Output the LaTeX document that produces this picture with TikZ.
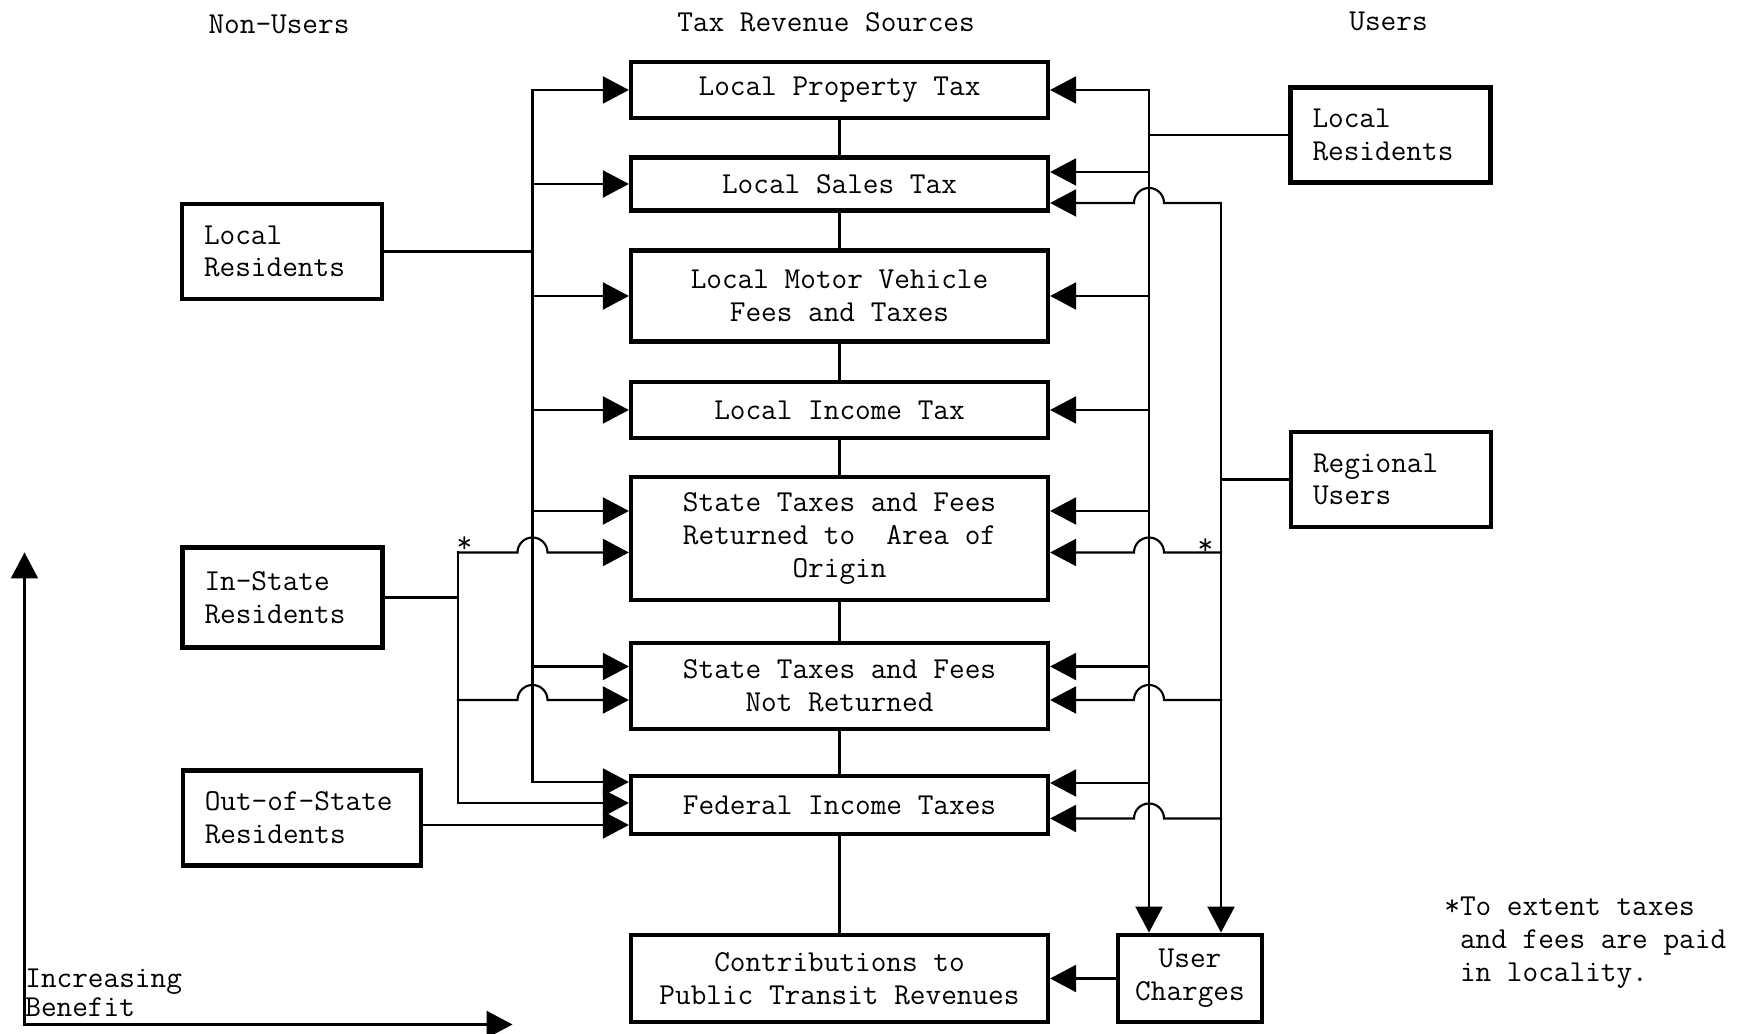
\documentclass[tikz,border=0pt]{standalone}
\usepackage{fontspec}
\usetikzlibrary{arrows.meta,calc}

\begin{document}
\begin{tikzpicture}[
  font=\ttfamily\fontsize{17.3pt}{18.6pt}\selectfont,
  block/.style={rectangle,draw,line width=2.4pt,minimum width=8.34cm,
    align=center,inner sep=0pt},
  sidebox/.style={rectangle,draw,line width=2.4pt,text width=#1,inner xsep=4.4mm,
    inner ysep=0pt,minimum height=1.9cm,align=left},
  sidebox/.default=3.12cm,
  link/.style={line width=1.2pt,line cap=rect},
  arrow/.style={link,-{Triangle[length=5.2mm,width=5.4mm]}},
]
\useasboundingbox (0,0) rectangle (34.78,20.68);

% Column headings
\node (nonusers) at (5.58,20.19) {Non-Users};
\node (sources) at (16.52,20.24) {Tax Revenue Sources};
\node (users) at (27.77,20.26) {Users};

% Tax revenue sources
\node[block,minimum height=1.11cm] (lpt) at (16.79,18.88) {Local Property Tax};
\node[block,minimum height=1.06cm] (lst) at (16.79,17.00) {Local Sales Tax};
\node[block,minimum height=1.82cm] (lmv) at (16.79,14.76) {Local Motor Vehicle\\Fees and Taxes};
\node[block,minimum height=1.13cm] (lit) at (16.79,12.48) {Local Income Tax};
\node[block,minimum height=2.46cm] (stfr) at (16.79,9.91) {State Taxes and Fees\\Returned to\ \ Area of\\Origin};
\node[block,minimum height=1.71cm] (stfn) at (16.79,6.96) {State Taxes and Fees\\Not Returned};
\node[block,minimum height=1.15cm] (fed) at (16.79,4.58) {Federal Income Taxes};
\node[block,minimum height=1.75cm] (contrib) at (16.79,1.11) {Contributions to\\Public Transit Revenues};
\node[block,minimum width=2.88cm,minimum height=1.75cm] (uch) at (23.80,1.11) {User\\Charges};

% Non-users
\node[sidebox] (lres) at (5.64,15.65) {Local\\Residents};
\node[sidebox,minimum height=2cm] (inst) at (5.65,8.73) {In-State\\Residents};
\node[sidebox=3.89cm] (outst) at (6.04,4.32) {Out-of-State\\Residents};

% Users
\node[sidebox] (rres) at (27.81,17.98) {Local\\Residents};
\node[sidebox] (reg) at (27.82,11.09) {Regional\\Users};

% Bus lines
\coordinate (lbus) at (10.65,0);
\coordinate (ibus) at (9.16,0);
\coordinate (rbus) at (22.98,0);
\coordinate (gbus) at (24.42,0);

% Arrow ends on the boxes
\coordinate (la5) at ($(stfr.west)+(0,0.55)$);
\coordinate (lb5) at ($(stfr.west)+(0,-0.28)$);
\coordinate (la6) at ($(stfn.west)+(0,0.39)$);
\coordinate (lb6) at ($(stfn.west)+(0,-0.28)$);
\coordinate (la7) at ($(fed.west)+(0,0.46)$);
\coordinate (lb7) at ($(fed.west)+(0,0.04)$);
\coordinate (lc7) at ($(fed.west)+(0,-0.40)$);
\coordinate (ra2) at ($(lst.east)+(0,0.24)$);
\coordinate (rb2) at ($(lst.east)+(0,-0.38)$);
\coordinate (ra5) at ($(stfr.east)+(0,0.55)$);
\coordinate (rb5) at ($(stfr.east)+(0,-0.28)$);
\coordinate (ra6) at ($(stfn.east)+(0,0.39)$);
\coordinate (rb6) at ($(stfn.east)+(0,-0.28)$);
\coordinate (ra7) at ($(fed.east)+(0,0.44)$);
\coordinate (rb7) at ($(fed.east)+(0,-0.27)$);

% Central column
\foreach \a/\b in {lpt/lst,lst/lmv,lmv/lit,lit/stfr,stfr/stfn,stfn/fed,fed/contrib}
  \draw[link] (\a) -- (\b);

% Local residents (non-users)
\draw[link] (lres) -- (lres -| lbus);
\draw[link] (lbus |- lpt) -- (lbus |- la7);
\foreach \t in {lpt.west,lst.west,lmv.west,lit.west,la5,la6,la7}
  \draw[arrow] (lbus |- \t) -- (\t);

% In-state residents
\draw[link] (inst) -- (inst -| ibus);
\draw[link] (ibus |- lb5) -- (ibus |- lb7);
\foreach \t in {lb5,lb6}
  \draw[arrow] (ibus |- \t) -- ($(lbus |- \t)-(0.3,0)$)
    arc[start angle=180,end angle=0,radius=0.3] -- (\t);
\draw[arrow] (ibus |- lb7) -- (lb7);
\node[inner sep=0pt,anchor=base] (starl) at (9.29,9.62) {*};

% Out-of-state residents
\draw[arrow] (outst.east |- lc7) -- (lc7);

% Local residents (users)
\draw[link] (rres) -- (rres -| rbus);
\draw[arrow] (rbus |- lpt) -- (rbus |- uch.north);
\foreach \t in {lpt.east,ra2,lmv.east,lit.east,ra5,ra6,ra7}
  \draw[arrow] (rbus |- \t) -- (\t);

% Regional users
\draw[link] (reg) -- (reg -| gbus);
\draw[arrow] (gbus |- rb2) -- (gbus |- uch.north);
\foreach \t in {rb2,rb5,rb6,rb7}
  \draw[arrow] (gbus |- \t) -- ($(rbus |- \t)+(0.3,0)$)
    arc[start angle=0,end angle=180,radius=0.3] -- (\t);
\node[inner sep=0pt,anchor=base] (starr) at (24.11,9.58) {*};

\draw[arrow] (uch) -- (contrib);

% Benefit axes
\coordinate (orig) at (0.49,0.19);
\coordinate (ytip) at (0.49,9.63);
\coordinate (xtip) at (10.25,0.19);
\draw[arrow] (orig) -- (ytip);
\draw[arrow] (orig) -- (xtip);
\node[anchor=north west,inner sep=0pt,align=left] (benefit) at (0.5,1.30) {Increasing\\[-2.6pt]Benefit};

% Footnote
\node[anchor=north west,inner sep=0pt,align=left] (note) at (28.88,2.74)
  {*To extent taxes\\\phantom{*}and fees are paid\\\phantom{*}in locality.};

\end{tikzpicture}
\end{document}
